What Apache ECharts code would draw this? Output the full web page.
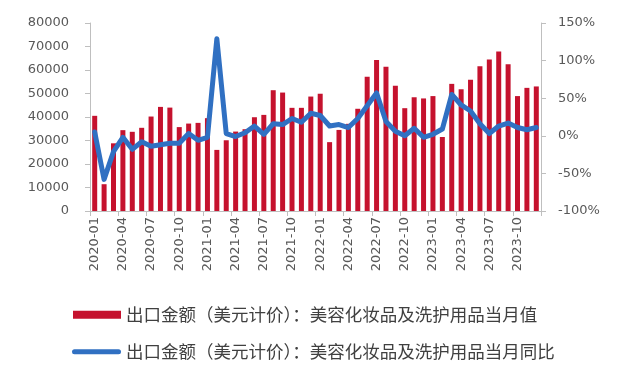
<!DOCTYPE html>
<html>
<head>
<meta charset="utf-8">
<script src="https://cdn.jsdelivr.net/npm/echarts@6/dist/echarts.min.js"></script>
<style>
html,body{margin:0;padding:0;background:#fff;}
#chart{width:620px;height:374px;}
</style>
</head>
<body>
<div id="chart"></div>
<script>
var categories = [
  '2020-01','2020-02','2020-03','2020-04','2020-05','2020-06','2020-07','2020-08','2020-09','2020-10','2020-11','2020-12',
  '2021-01','2021-02','2021-03','2021-04','2021-05','2021-06','2021-07','2021-08','2021-09','2021-10','2021-11','2021-12',
  '2022-01','2022-02','2022-03','2022-04','2022-05','2022-06','2022-07','2022-08','2022-09','2022-10','2022-11','2022-12',
  '2023-01','2023-02','2023-03','2023-04','2023-05','2023-06','2023-07','2023-08','2023-09','2023-10','2023-11','2023-12'
];
var monthlyValue = [
  40500, 11400, 28800, 34400, 33700, 35400, 40200, 44300, 44000, 35700, 37200, 37500,
  39500, 26000, 30100, 33800, 34800, 39900, 40900, 51400, 50400, 43900, 43900, 48700,
  49900, 29300, 34500, 37100, 43500, 57100, 64300, 61400, 53300, 43750, 48400, 47900,
  48900, 31500, 54100, 51800, 55800, 61600, 64500, 67900, 62500, 48900, 52400, 53000
];
var yoyPercent = [
  5, -58, -21, -2, -18, -8, -14, -12, -10, -10, 3, -6,
  -2, 129, 3, -1, 4, 13, 2, 16, 15, 23, 18, 30,
  27, 13, 15, 11, 23, 40, 57, 19, 6, 0, 10, -2,
  2, 9, 55, 41, 33, 16, 3, 13, 17, 11, 8, 11
];
var seriesNames = [
  '出口金额（美元计价）：美容化妆品及洗护用品当月值',
  '出口金额（美元计价）：美容化妆品及洗护用品当月同比'
];

var axisColor = '#bfbfbf';
var labelColor = '#595959';
var fontFam = 'DejaVu Sans';
var legendText = {fontSize: 17.5, color: '#404040', fontFamily: 'Noto Sans CJK SC', padding: [0, 0, 0, 0]};

var chart = echarts.init(document.getElementById('chart'), null, {renderer: 'canvas'});
chart.setOption({
  animation: false,
  backgroundColor: '#fff',
  grid: {left: 90, right: 79, top: 23, bottom: 163, containLabel: false},
  legend: [
    {
      orient: 'vertical', left: 73, top: 306, padding: 0,
      itemWidth: 48, itemHeight: 8, itemGap: 5,
      data: [{name: seriesNames[0], icon: 'rect'}],
      textStyle: legendText
    },
    {
      orient: 'vertical', left: 72, top: 343, padding: 0,
      itemWidth: 49, itemHeight: 5, itemGap: 5,
      data: [{
        name: seriesNames[1],
        icon: 'path://M2.5,0 L46.5,0 A2.5,2.5 0 0 1 46.5,5 L2.5,5 A2.5,2.5 0 0 1 2.5,0 Z',
        itemStyle: {color: '#3070c2', borderWidth: 0, borderColor: 'transparent'},
        lineStyle: {width: 0, color: 'transparent'}
      }],
      itemStyle: {color: '#3070c2', borderWidth: 0},
      lineStyle: {width: 0},
      textStyle: legendText
    }
  ],
  xAxis: {
    type: 'category',
    data: categories,
    boundaryGap: true,
    axisLine: {lineStyle: {color: axisColor, width: 1}},
    axisTick: {show: true, interval: 2, length: 5, lineStyle: {color: axisColor}},
    axisLabel: {interval: 2, rotate: 90, margin: 6, color: labelColor, fontSize: 13, fontFamily: fontFam},
    splitLine: {show: false}
  },
  yAxis: [
    {
      type: 'value', min: 0, max: 80000, interval: 10000,
      axisLine: {show: true, lineStyle: {color: axisColor}},
      axisTick: {show: true, length: 5, lineStyle: {color: axisColor}},
      axisLabel: {margin: 21, color: labelColor, fontSize: 13, fontFamily: fontFam, formatter: function (v) { return String(v); }},
      splitLine: {show: false}
    },
    {
      type: 'value', min: -100, max: 150, interval: 50, position: 'right',
      axisLine: {show: true, lineStyle: {color: axisColor}},
      axisTick: {show: true, length: 5, lineStyle: {color: axisColor}},
      axisLabel: {margin: 17, color: labelColor, fontSize: 13, fontFamily: fontFam, formatter: '{value}%'},
      splitLine: {show: false}
    }
  ],
  series: [
    {
      name: seriesNames[0],
      type: 'bar',
      yAxisIndex: 0,
      data: monthlyValue,
      barWidth: 5,
      itemStyle: {color: '#c5122e'}
    },
    {
      name: seriesNames[1],
      type: 'line',
      yAxisIndex: 1,
      data: yoyPercent,
      symbol: 'none',
      showSymbol: false,
      lineStyle: {color: '#3070c2', width: 5, cap: 'round', join: 'round'},
      itemStyle: {color: '#3070c2'}
    }
  ]
});
</script>
</body>
</html>
